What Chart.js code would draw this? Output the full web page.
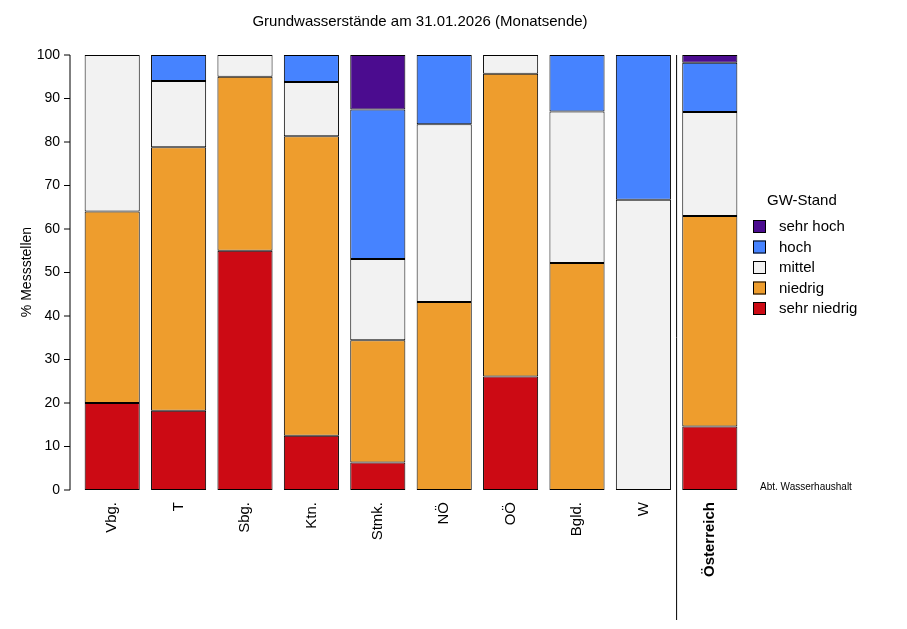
<!DOCTYPE html>
<html><head><meta charset="utf-8">
<script src="https://cdn.jsdelivr.net/npm/chart.js@4"></script>
<style>body{margin:0;background:#fff}#w{width:907px;height:629px}</style>
</head><body><div id="w"><canvas id="c"></canvas></div>
<script>
const categories=["Vbg.","T","Sbg.","Ktn.","Stmk.","NÖ","OÖ","Bgld.","W","Österreich"];
const sehrNiedrig=[20,18.2,55,12.5,6.3,0,26.1,0,0,14.6];
const niedrig=[44,60.6,40,68.8,28.1,43.2,69.6,52.2,0,48.4];
const mittel=[36,15.2,5,12.5,18.7,40.9,4.3,34.8,66.7,23.9];
const hoch=[0,6,0,6.2,34.4,15.9,0,13,33.3,11.3];
const sehrHoch=[0,0,0,0,12.5,0,0,0,0,1.8];
const yTicks=[0,10,20,30,40,50,60,70,80,90,100];
const series=[["sehr niedrig",sehrNiedrig,"#CC0A14"],["niedrig",niedrig,"#EE9D2D"],["mittel",mittel,"#F2F2F2"],["hoch",hoch,"#4683FF"],["sehr hoch",sehrHoch,"#4B0C8F"]];
const F="Liberation Sans, Arial, sans-serif";
const deco={id:"deco",afterDraw(ch){
 const c=ch.ctx,a=ch.chartArea,y=ch.scales.y;
 c.save();c.strokeStyle="#000";c.lineWidth=1;
 const ax=a.left-9;
 c.beginPath();c.moveTo(ax,y.getPixelForValue(0));c.lineTo(ax,y.getPixelForValue(100));c.stroke();
 c.fillStyle="#000";c.font="14px "+F;c.textAlign="right";c.textBaseline="middle";
 yTicks.forEach(v=>{const p=y.getPixelForValue(v);c.beginPath();c.moveTo(ax-6,p);c.lineTo(ax,p);c.stroke();c.fillText(String(v),ax-10,p);});
 const sx=ch.scales.x,sepx=(sx.getPixelForValue(8)+sx.getPixelForValue(9))/2;
 c.beginPath();c.moveTo(sepx,a.top);c.lineTo(sepx,620);c.stroke();
 c.textAlign="center";c.font="15px "+F;c.fillText("Grundwasserstände am 31.01.2026 (Monatsende)",420,22);
 c.save();c.translate(27,272);c.rotate(-Math.PI/2);c.font="14px "+F;c.fillText("% Messstellen",0,0);c.restore();
 c.textAlign="left";c.font="15px "+F;c.fillText("GW-Stand",767,201);
 series.slice().reverse().forEach((s,i)=>{const yy=226+i*20.5;c.fillStyle=s[2];c.fillRect(753,yy-6,13,13);c.strokeRect(753.5,yy-5.5,12,12);c.fillStyle="#000";c.fillText(s[0],779,yy+1);});
 c.font="10px "+F;c.fillText("Abt. Wasserhaushalt",760,487);
 c.restore();}};
new Chart(document.getElementById("c"),{type:"bar",
 data:{labels:categories,datasets:series.map(s=>({label:s[0],data:s[1],backgroundColor:s[2],borderColor:"#000",borderWidth:{top:1,left:1,right:1,bottom:1},borderSkipped:false,barPercentage:0.83,categoryPercentage:1}))},
 options:{responsive:true,maintainAspectRatio:false,animation:false,devicePixelRatio:1,
  layout:{padding:{left:0,right:164,top:55,bottom:0}},
  plugins:{legend:{display:false},tooltip:{enabled:false}},
  scales:{x:{stacked:true,grid:{display:false},border:{display:false},
    ticks:{color:"#000",maxRotation:90,minRotation:90,padding:4,font:ctx=>({family:F,size:15,weight:ctx.index===9?"bold":"normal"})},
    afterFit:s=>{s.height=139;}},
   y:{stacked:true,min:0,max:100,grid:{display:false},border:{display:false},ticks:{display:false},afterFit:s=>{s.width=79;}}}},
 plugins:[deco]});
</script></body></html>
